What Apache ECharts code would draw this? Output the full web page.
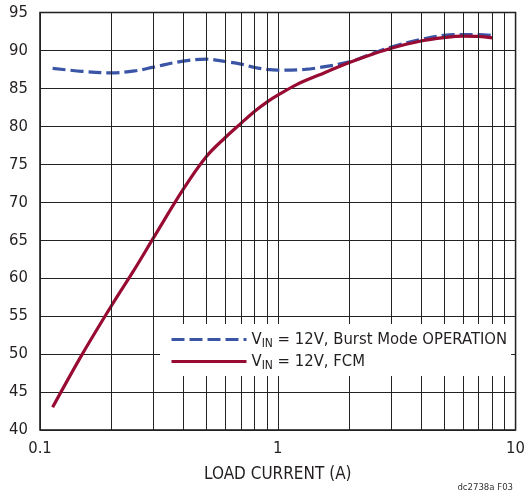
<!DOCTYPE html>
<html>
<head>
<meta charset="utf-8">
<script src="https://cdn.jsdelivr.net/npm/echarts@6/dist/echarts.min.js"></script>
<style>
  html, body { margin: 0; padding: 0; background: #fff; }
  #chart { width: 528px; height: 499px; }
</style>
</head>
<body>
<div id="chart"></div>
<script>
// load current (A) and efficiency (%)
const burstCurrent = [0.113, 0.15, 0.2, 0.25, 0.3, 0.4, 0.5, 0.6, 0.7, 0.8, 0.9, 1.0, 1.3, 1.5, 2, 2.5, 3, 4, 5, 6, 7, 8];
const burstEff = [87.65, 87.25, 87.05, 87.3, 87.8, 88.6, 88.85, 88.55, 88.2, 87.75, 87.5, 87.4, 87.5, 87.75, 88.5, 89.6, 90.45, 91.45, 92.0, 92.1, 92.1, 91.95];

const fcmCurrent = [0.113, 0.15, 0.2, 0.25, 0.3, 0.4, 0.5, 0.6, 0.7, 0.8, 0.9, 1.0, 1.2, 1.5, 2, 2.5, 3, 4, 5, 6, 7, 8];
const fcmEff = [43.0, 49.9, 56.4, 61.2, 65.3, 71.7, 76.0, 78.5, 80.4, 82.0, 83.2, 84.1, 85.5, 86.8, 88.4, 89.5, 90.3, 91.25, 91.7, 91.9, 91.85, 91.65];

// minor decade gridlines on the log axis
const minorGrid = [0.2, 0.3, 0.4, 0.5, 0.6, 0.7, 0.8, 0.9, 2, 3, 4, 5, 6, 7, 8, 9];

const seriesNames = ['Burst', 'FCM'];

const FONT = '"DejaVu Sans Condensed", "Liberation Sans", sans-serif';

function pairs(xs, ys) {
    return xs.map((x, i) => [x, ys[i]]);
}

const chart = echarts.init(document.getElementById('chart'), null, { renderer: 'canvas' });

chart.setOption({
    animation: false,
    backgroundColor: '#fff',
    grid: {
        left: 40,
        right: 12,
        top: 12.5,
        bottom: 69,
        show: true,
        borderColor: '#111',
        borderWidth: 1.5,
        backgroundColor: 'transparent'
    },
    title: {
        text: 'dc2738a F03',
        right: 10,
        bottom: 1,
        textStyle: { fontFamily: FONT, fontSize: 9.5, fontWeight: 'normal', color: '#333' }
    },
    legend: {
        orient: 'vertical',
        left: 160,
        top: 324,
        padding: [5, 4, 4, 10],
        itemGap: 1,
        itemWidth: 75,
        itemHeight: 14,
        backgroundColor: '#fff',
        z: 10,
        itemStyle: { opacity: 0 },
        lineStyle: { width: 3 },
        data: seriesNames,
        formatter: function (name) {
            if (name === 'Burst') return '{b|V}{s|IN}{b| = 12V, Burst Mode OPERATION}';
            return '{b|V}{s|IN}{b| = 12V, FCM}';
        },
        textStyle: {
            fontFamily: FONT,
            fontSize: 16.5,
            color: '#231f20',
            rich: {
                b: { fontFamily: FONT, fontSize: 16.5, color: '#231f20', lineHeight: 20 },
                s: { fontFamily: FONT, fontSize: 12, color: '#231f20', lineHeight: 20, padding: [9, 0, 0, 0] }
            }
        }
    },
    xAxis: {
        type: 'log',
        logBase: 10,
        min: 0.1,
        max: 10,
        name: 'LOAD CURRENT (A)',
        nameLocation: 'middle',
        nameGap: 36,
        nameTextStyle: { fontFamily: FONT, fontSize: 17, color: '#231f20' },
        axisLine: { show: false },
        axisTick: { show: false },
        axisLabel: {
            fontFamily: FONT,
            fontSize: 16.5,
            color: '#231f20',
            margin: 10,
            formatter: v => String(v)
        },
        splitLine: { show: true, lineStyle: { color: '#222', width: 1 } }
    },
    yAxis: {
        type: 'value',
        min: 40,
        max: 95,
        interval: 5,
        axisLine: { show: false },
        axisTick: { show: false },
        axisLabel: { fontFamily: FONT, fontSize: 16.5, color: '#231f20', margin: 12 },
        splitLine: { show: true, lineStyle: { color: '#222', width: 1 } }
    },
    series: [
        {
            name: 'Burst',
            type: 'line',
            smooth: 0.35,
            symbol: 'none',
            z: 3,
            data: pairs(burstCurrent, burstEff),
            lineStyle: { color: '#3a55a6', width: 3.2, type: [13, 5] },
            itemStyle: { color: '#3a55a6' },
            markLine: {
                silent: true,
                symbol: 'none',
                label: { show: false },
                lineStyle: { color: '#222', width: 1, type: 'solid' },
                data: minorGrid.map(v => ({ xAxis: v }))
            }
        },
        {
            name: 'FCM',
            type: 'line',
            smooth: 0.35,
            symbol: 'none',
            z: 4,
            data: pairs(fcmCurrent, fcmEff),
            lineStyle: { color: '#980b32', width: 3.2 },
            itemStyle: { color: '#980b32' }
        }
    ]
});
</script>
</body>
</html>
